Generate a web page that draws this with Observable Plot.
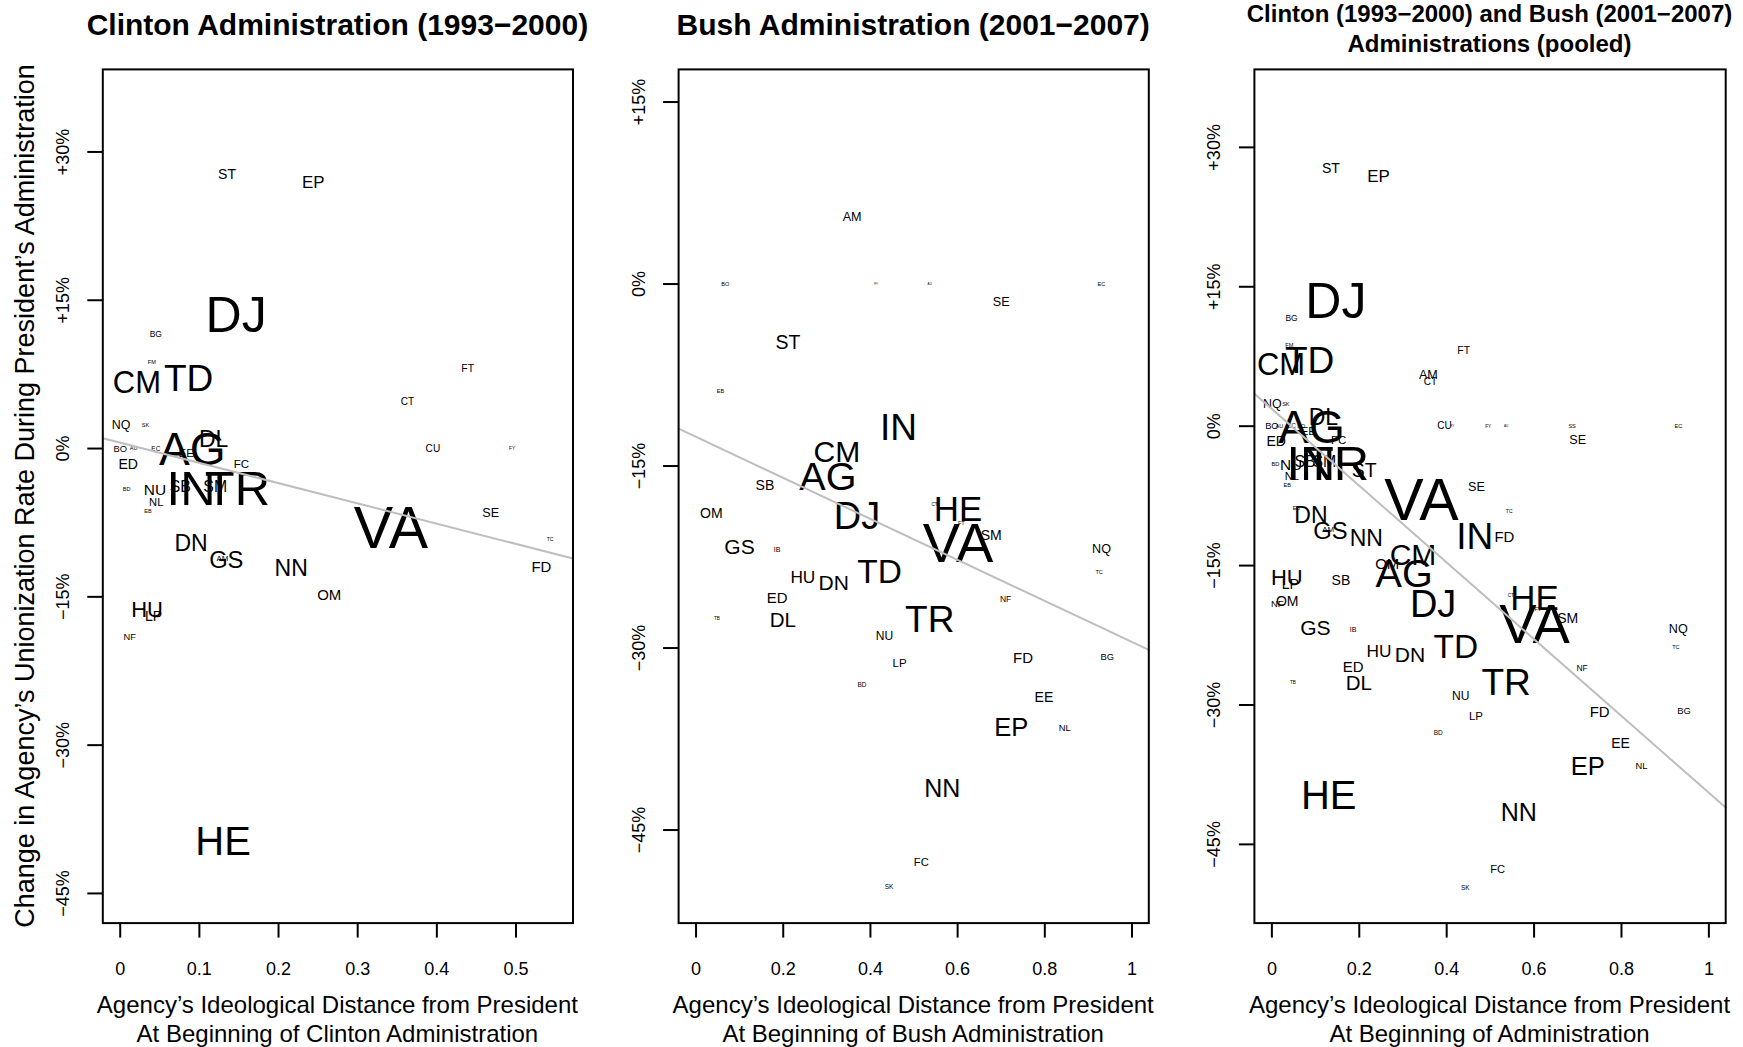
<!DOCTYPE html>
<html><head><meta charset="utf-8">
<script src="https://cdn.jsdelivr.net/npm/d3@7"></script>
<script src="https://cdn.jsdelivr.net/npm/@observablehq/plot@0.6"></script>
<style>
body{margin:0;background:#fff;}
#wrap{position:relative;width:1743px;height:1047px;overflow:hidden;font-family:"Liberation Sans",Arial,Helvetica,sans-serif;color:#000;background:#fff;}
.abs{position:absolute;}
.title{font-weight:bold;font-size:30px;line-height:30px;text-align:center;white-space:nowrap;}
.title2{font-weight:bold;font-size:24px;line-height:30px;text-align:center;white-space:nowrap;}
.xlab{font-size:24px;line-height:29px;text-align:center;white-space:nowrap;}
.ylab{font-size:27px;line-height:30px;text-align:center;white-space:nowrap;transform:rotate(-90deg);transform-origin:50% 50%;}
</style>
</head><body>
<div id="wrap"></div>
<script>
// ---------------- data ----------------
const clintonCodes = ["ST","EP","DJ","BG","FM","CM","TD","FT","CT","NQ","SK","BO","AU","EC","CU","FY","SS","DL","AG","EE","ED","FC","BD","NU","SB","IN","TR","SM","NL","EB","SE","VA","TC","DN","AM","GS","NN","FD","OM","HU","LP","NF","HE"];
const clintonDistance = [0.135,0.244,0.1465,0.045,0.040,0.021,0.0865,0.439,0.363,0.001,0.032,0.0,0.017,0.045,0.395,0.495,0.687,0.118,0.091,0.0835,0.010,0.153,0.008,0.044,0.076,0.0895,0.148,0.120,0.0455,0.035,0.468,0.342,0.543,0.0895,0.129,0.134,0.216,0.532,0.264,0.034,0.042,0.012,0.130];
const clintonChange = [27.7,26.9,13.4,11.6,8.7,6.6,7.0,8.1,4.75,2.4,2.4,0,0,0,0,0,0,0.9,-0.2,-0.5,-1.65,-1.55,-4.1,-4.2,-3.9,-4.1,-4.1,-3.9,-5.4,-6.3,-6.5,-8.1,-9.2,-9.6,-11.1,-11.3,-12.1,-12.0,-14.8,-16.3,-17.0,-19.1,-39.8];
const clintonWeight = [0.78,0.94,2.78,0.47,0.31,1.72,2.06,0.58,0.56,0.69,0.31,0.52,0.31,0.36,0.56,0.26,0.31,1.28,2.56,0.64,0.78,0.64,0.31,0.86,0.88,2.72,2.72,0.88,0.62,0.31,0.70,3.28,0.28,1.28,0.44,1.32,1.28,0.83,0.83,1.22,0.78,0.52,2.22];

const bushCodes = ["AM","BO","FY","AU","EC","SE","ST","EB","IN","CM","AG","SB","OM","DJ","CT","HE","FT","VA","SM","GS","IB","NQ","TC","TD","HU","DN","ED","NF","TB","DL","TR","NU","FD","BG","LP","BD","EE","EP","NL","NN","FC","SK"];
const bushDistance = [0.358,0.067,0.413,0.536,0.930,0.700,0.211,0.056,0.4645,0.323,0.3025,0.158,0.035,0.369,0.547,0.601,0.6085,0.601,0.677,0.0996,0.186,0.930,0.9245,0.421,0.245,0.316,0.186,0.710,0.048,0.199,0.536,0.432,0.750,0.943,0.467,0.3805,0.798,0.723,0.8455,0.565,0.5166,0.4425];
const bushChange = [5.5,0,0,0,0,-1.44,-4.8,-8.86,-11.9,-13.9,-15.9,-16.6,-18.9,-19.2,-18.2,-18.6,-19.7,-21.4,-20.7,-21.7,-21.9,-21.8,-23.75,-23.75,-24.2,-24.7,-25.9,-26.0,-27.55,-27.7,-27.7,-29.0,-30.8,-30.7,-31.25,-33.0,-34.1,-36.6,-36.6,-41.6,-47.7,-49.7];
const bushWeight = [0.70,0.31,0.17,0.17,0.31,0.70,1.08,0.31,2.06,1.67,2.20,0.78,0.78,2.11,0.26,1.94,0.31,3.11,0.78,1.17,0.39,0.70,0.31,1.86,0.96,1.17,0.83,0.47,0.26,1.14,2.06,0.67,0.83,0.52,0.64,0.36,0.78,1.42,0.52,1.39,0.62,0.36];

// fitted lines (percentage points): intercept and slope per panel
const fitIntercept = [0.6, -12.6, 1.85];
const fitSlope = [-20.5, -16.9, -41.3];

const xTicksClinton = [0,0.1,0.2,0.3,0.4,0.5];
const xTickLabelsClinton = ["0","0.1","0.2","0.3","0.4","0.5"];
const xTicksBush = [0,0.2,0.4,0.6,0.8,1];
const xTickLabelsBush = ["0","0.2","0.4","0.6","0.8","1"];
const yTicksClinton = [30,15,0,-15,-30,-45];
const yTickLabelsClinton = ["+30%","+15%","0%","\u221215%","\u221230%","\u221245%"];
const yTicksBush = [15,0,-15,-30,-45];
const yTickLabelsBush = ["+15%","0%","\u221215%","\u221230%","\u221245%"];

const titles = ["Clinton Administration (1993\u22122000)","Bush Administration (2001\u22122007)"];
const pooledTitle = ["Clinton (1993\u22122000) and Bush (2001\u22122007)","Administrations (pooled)"];
const xTitles = [
  ["Agency\u2019s Ideological Distance from President","At Beginning of Clinton Administration"],
  ["Agency\u2019s Ideological Distance from President","At Beginning of Bush Administration"],
  ["Agency\u2019s Ideological Distance from President","At Beginning of Administration"]
];
const yTitle = "Change in Agency\u2019s Unionization Rate During President\u2019s Administration";

// ---------------- build ----------------
const FONT = '"Liberation Sans", Arial, Helvetica, sans-serif';
const BASE = 18;
const clinton = clintonCodes.map((c,i)=>({code:c,x:clintonDistance[i],y:clintonChange[i],w:clintonWeight[i]}));
const bush = bushCodes.map((c,i)=>({code:c,x:bushDistance[i],y:bushChange[i],w:bushWeight[i]}));

const wrap = document.getElementById("wrap");
function div(cls, text, style){const d=document.createElement("div");d.className="abs "+cls;d.innerHTML=text;Object.assign(d.style,style);wrap.appendChild(d);return d;}

function panel(o){
  const [x0,x1]=o.xDomain;
  const data=o.data.filter(d=>d.x>=x0&&d.x<=x1&&d.y>=o.yDomain[0]&&d.y<=o.yDomain[1]);
  const fit=[x0,x1].map(x=>({x,y:o.a+o.b*x}));
  const svg = Plot.plot({
    width:o.width, height:935,
    marginLeft:o.ml, marginRight:o.mr, marginTop:8.9, marginBottom:72.4,
    x:{domain:o.xDomain}, y:{domain:o.yDomain},
    style:{fontFamily:FONT, background:"white", maxWidth:"none", overflow:"hidden"},
    marks:[
      Plot.text(data,{x:"x",y:"y",text:"code",fontSize:d=>BASE*d.w,fill:"black",fontFamily:FONT}),
      Plot.line(fit,{x:"x",y:"y",stroke:"#bebebe",strokeWidth:2}),
      Plot.frame({stroke:"black",strokeWidth:2}),
      Plot.axisX({ticks:o.xTicks,tickFormat:d=>o.xLabels[o.xTicks.indexOf(d)],tickSize:15,tickPadding:24,fontSize:18,strokeWidth:2,label:null}),
      Plot.axisY({ticks:o.yTicks,tickFormat:d=>o.yLabels[o.yTicks.indexOf(d)],tickSize:15,tickPadding:19,tickRotate:-90,fontSize:18,strokeWidth:2,label:null})
    ]
  });
  const holder=document.createElement("div");
  holder.className="abs";
  holder.style.left=o.left+"px"; holder.style.top="60px";
  holder.appendChild(svg);
  wrap.appendChild(holder);
}

panel({data:clinton,xDomain:[-0.022,0.572],yDomain:[-48.0,38.35],xTicks:xTicksClinton,xLabels:xTickLabelsClinton,yTicks:yTicksClinton,yLabels:yTickLabelsClinton,a:fitIntercept[0],b:fitSlope[0],left:0,width:580,ml:102.3,mr:7.5});
panel({data:bush,xDomain:[-0.04,1.0385],yDomain:[-52.67,17.69],xTicks:xTicksBush,xLabels:xTickLabelsBush,yTicks:yTicksBush,yLabels:yTickLabelsBush,a:fitIntercept[1],b:fitSlope[1],left:580,width:576,ml:98.1,mr:7.7});
panel({data:clinton.concat(bush),xDomain:[-0.04,1.0385],yDomain:[-53.47,38.39],xTicks:xTicksBush,xLabels:xTickLabelsBush,yTicks:yTicksClinton,yLabels:yTickLabelsClinton,a:fitIntercept[2],b:fitSlope[2],left:1156,width:587,ml:97.9,mr:17.8});

const centers=[337.4,913.2,1489.5];
div("title",titles[0],{left:(centers[0]-400)+"px",width:"800px",top:"9.5px"});
div("title",titles[1],{left:(centers[1]-400)+"px",width:"800px",top:"9.5px"});
div("title2",pooledTitle.join("<br>"),{left:(centers[2]-400)+"px",width:"800px",top:"-1px"});
xTitles.forEach((t,i)=>div("xlab",t.join("<br>"),{left:(centers[i]-400)+"px",width:"800px",top:"989.5px"}));
div("ylab",yTitle,{left:(24.5-500)+"px",width:"1000px",top:(496-15)+"px"});
</script>
</body></html>
